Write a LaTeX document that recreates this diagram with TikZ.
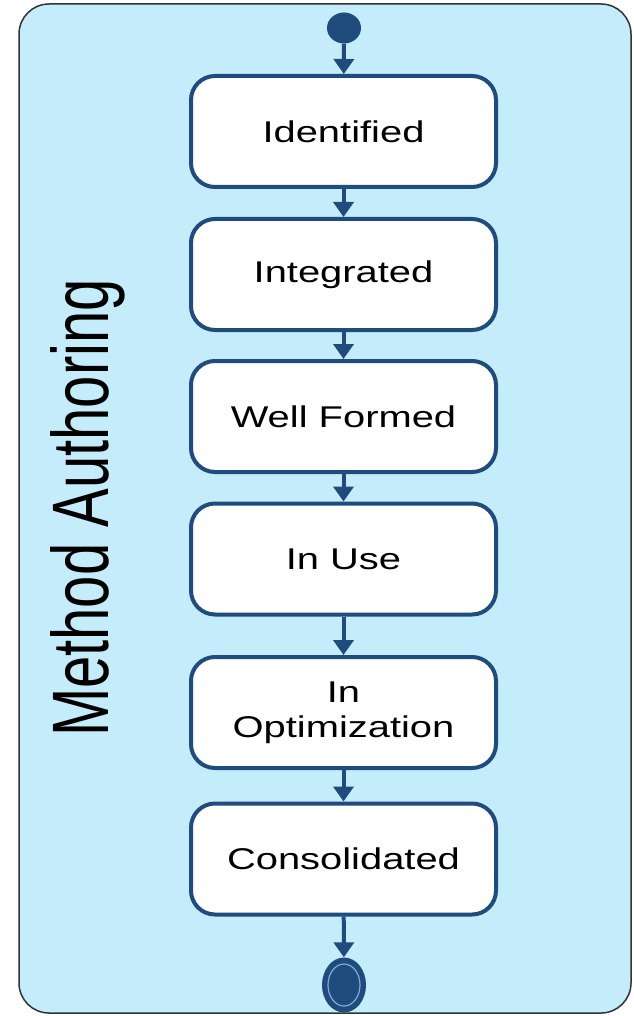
\documentclass[tikz,border=0pt]{standalone}
\usepackage{fontspec}
\setmainfont{Liberation Sans}
\usetikzlibrary{arrows.meta,shapes.geometric}
\definecolor{panelblue}{RGB}{197,236,251}
\definecolor{darkblue}{RGB}{31,75,125}
\definecolor{ringblue}{RGB}{130,170,215}
\newcommand{\sx}[1]{\scalebox{1.33}[1]{#1}}
\begin{document}
\begin{tikzpicture}[x=1pt,y=-1pt,
  state/.style={draw=darkblue, line width=4pt, fill=white, rounded corners=24pt,
    minimum width=305pt, minimum height=111pt, inner sep=0pt, align=center,
    font=\fontsize{30}{35}\selectfont},
  flow/.style={draw=darkblue, line width=4pt, -{Triangle[width=20pt,length=15pt]}},
  panel/.style={draw=black!80, line width=1.5pt, fill=panelblue, rounded corners=30pt}
]
\useasboundingbox (0,0) rectangle (633,1016);
\fill[white] (0,0) rectangle (633,1016);
\draw[panel] (19,4) rectangle (631,1013);

\node[rotate=90, anchor=base, font=\fontsize{58}{60}\selectfont] (title) at (108,508)
  {\scalebox{1}[1.38]{Method Authoring}};

\node[ellipse, fill=darkblue, minimum width=34pt, minimum height=31pt, inner sep=0pt] (start) at (344,28) {};
\node[state] (s1) at (343.5,131.5) {\sx{Identified}};
\node[state] (s2) at (343.5,274.5) {\sx{Integrated}};
\node[state] (s3) at (343.5,416.5) {\sx{Well Formed}};
\node[state] (s4) at (343.5,559) {\sx{In Use}};
\node[state] (s5) at (343.5,712.5) {\sx{In}\\\sx{Optimization}};
\node[state] (s6) at (343.5,859) {\sx{Consolidated}};
\node[ellipse, fill=darkblue, minimum width=44pt, minimum height=55pt, inner sep=0pt] (end) at (344,985) {};
\draw[ringblue, line width=1.2pt] (end.center) ellipse [x radius=16pt, y radius=21pt];

\draw[flow] (start) -- (s1);
\draw[flow] (s1) -- (s2);
\draw[flow] (s2) -- (s3);
\draw[flow] (s3) -- (s4);
\draw[flow] (s4) -- (s5);
\draw[flow] (s5) -- (s6);
\draw[flow] (s6) -- (end);
\end{tikzpicture}
\end{document}
